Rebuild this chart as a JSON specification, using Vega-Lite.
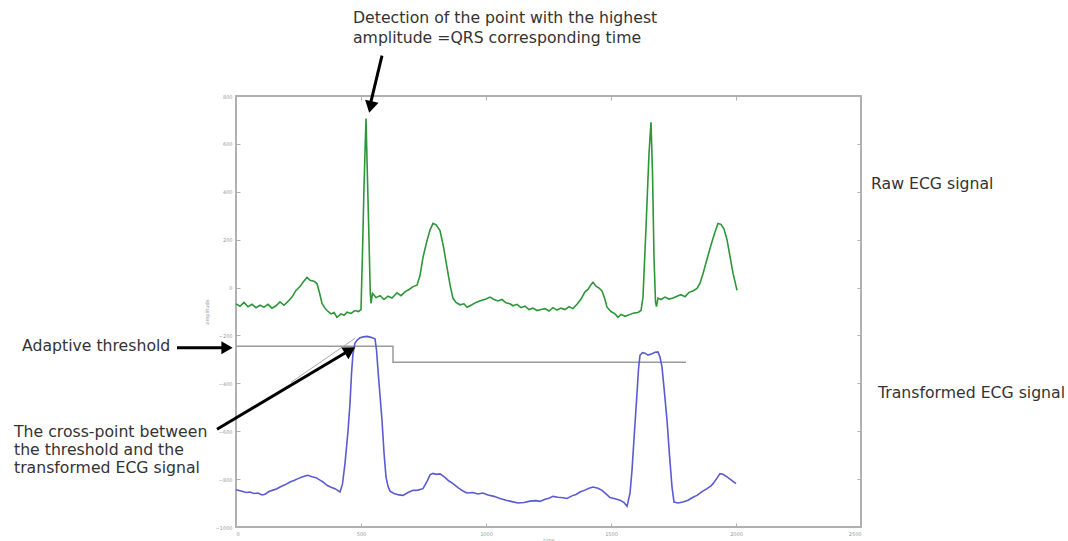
{
  "$schema": "https://vega.github.io/schema/vega-lite/v6.json",
  "width": 625,
  "height": 431,
  "autosize": {"type": "none"},
  "padding": {"left": 236, "top": 96, "right": 207, "bottom": 14},
  "background": "white",
  "config": {
    "view": {"stroke": "#b0b0b0", "strokeWidth": 2},
    "axis": {"grid": false, "format": "d", "labelFont": "DejaVu Sans", "labelFontSize": 5, "labelColor": "#999999", "tickColor": "#b0b0b0", "domainColor": "#b0b0b0", "tickSize": -4, "labelPadding": 8, "titleFont": "DejaVu Sans", "titleFontSize": 5, "titleColor": "#999999", "titleFontWeight": "normal"}
  },
  "datasets": {
    "green": [
      {"x":0,"y":-68},{"x":16,"y":-78},{"x":32,"y":-62},{"x":48,"y":-80},{"x":64,"y":-70},{"x":80,"y":-84},{"x":96,"y":-74},{"x":112,"y":-82},{"x":128,"y":-70},{"x":144,"y":-86},{"x":160,"y":-76},{"x":176,"y":-60},{"x":192,"y":-74},{"x":208,"y":-58},{"x":224,"y":-40},{"x":240,"y":-12},{"x":256,"y":4},{"x":268,"y":22},{"x":284,"y":42},{"x":296,"y":30},{"x":312,"y":26},{"x":324,"y":17},{"x":336,"y":-30},{"x":344,"y":-66},{"x":356,"y":-86},{"x":364,"y":-96},{"x":380,"y":-110},{"x":392,"y":-104},{"x":404,"y":-124},{"x":420,"y":-110},{"x":432,"y":-116},{"x":444,"y":-103},{"x":460,"y":-108},{"x":476,"y":-96},{"x":490,"y":-100},{"x":500,"y":-92},{"x":506,"y":150},{"x":512,"y":420},{"x":520,"y":706},{"x":526,"y":450},{"x":532,"y":200},{"x":537,"y":-20},{"x":540,"y":-66},{"x":546,"y":-24},{"x":560,"y":-42},{"x":576,"y":-34},{"x":592,"y":-50},{"x":608,"y":-36},{"x":624,"y":-44},{"x":644,"y":-22},{"x":660,"y":-34},{"x":676,"y":-18},{"x":692,"y":-8},{"x":708,"y":4},{"x":724,"y":10},{"x":736,"y":50},{"x":748,"y":126},{"x":764,"y":196},{"x":776,"y":240},{"x":788,"y":268},{"x":800,"y":262},{"x":816,"y":238},{"x":830,"y":170},{"x":844,"y":84},{"x":856,"y":12},{"x":868,"y":-45},{"x":880,"y":-62},{"x":896,"y":-72},{"x":912,"y":-68},{"x":924,"y":-82},{"x":944,"y":-72},{"x":960,"y":-62},{"x":980,"y":-54},{"x":1000,"y":-48},{"x":1016,"y":-40},{"x":1032,"y":-50},{"x":1048,"y":-56},{"x":1064,"y":-50},{"x":1080,"y":-64},{"x":1096,"y":-68},{"x":1108,"y":-76},{"x":1124,"y":-70},{"x":1140,"y":-84},{"x":1156,"y":-78},{"x":1172,"y":-92},{"x":1188,"y":-86},{"x":1204,"y":-96},{"x":1220,"y":-92},{"x":1236,"y":-88},{"x":1252,"y":-98},{"x":1268,"y":-84},{"x":1284,"y":-94},{"x":1300,"y":-86},{"x":1316,"y":-92},{"x":1332,"y":-80},{"x":1348,"y":-88},{"x":1364,"y":-70},{"x":1380,"y":-48},{"x":1396,"y":-18},{"x":1408,"y":-8},{"x":1420,"y":12},{"x":1428,"y":22},{"x":1440,"y":6},{"x":1452,"y":-2},{"x":1464,"y":-14},{"x":1476,"y":-50},{"x":1484,"y":-82},{"x":1500,"y":-100},{"x":1516,"y":-110},{"x":1528,"y":-124},{"x":1540,"y":-112},{"x":1556,"y":-120},{"x":1576,"y":-112},{"x":1592,"y":-106},{"x":1608,"y":-104},{"x":1620,"y":-96},{"x":1628,"y":-40},{"x":1640,"y":250},{"x":1652,"y":560},{"x":1660,"y":690},{"x":1666,"y":480},{"x":1672,"y":126},{"x":1678,"y":-60},{"x":1682,"y":-80},{"x":1688,"y":-44},{"x":1700,"y":-50},{"x":1716,"y":-40},{"x":1732,"y":-48},{"x":1748,"y":-44},{"x":1764,"y":-36},{"x":1780,"y":-30},{"x":1796,"y":-38},{"x":1812,"y":-20},{"x":1828,"y":-14},{"x":1844,"y":-4},{"x":1856,"y":18},{"x":1868,"y":58},{"x":1884,"y":118},{"x":1900,"y":178},{"x":1916,"y":232},{"x":1928,"y":268},{"x":1940,"y":264},{"x":1952,"y":244},{"x":1964,"y":200},{"x":1976,"y":130},{"x":1988,"y":60},{"x":2004,"y":-12}
    ],
    "blue": [
      {"x":0,"y":-844},{"x":20,"y":-850},{"x":40,"y":-856},{"x":56,"y":-854},{"x":72,"y":-860},{"x":88,"y":-858},{"x":104,"y":-866},{"x":116,"y":-863},{"x":132,"y":-852},{"x":148,"y":-846},{"x":164,"y":-840},{"x":176,"y":-833},{"x":196,"y":-824},{"x":216,"y":-812},{"x":232,"y":-806},{"x":248,"y":-798},{"x":264,"y":-791},{"x":280,"y":-786},{"x":288,"y":-784},{"x":304,"y":-790},{"x":320,"y":-794},{"x":336,"y":-804},{"x":348,"y":-812},{"x":364,"y":-826},{"x":380,"y":-834},{"x":396,"y":-840},{"x":408,"y":-848},{"x":416,"y":-854},{"x":426,"y":-820},{"x":436,"y":-734},{"x":448,"y":-600},{"x":456,"y":-484},{"x":462,"y":-360},{"x":468,"y":-275},{"x":476,"y":-232},{"x":484,"y":-220},{"x":496,"y":-210},{"x":510,"y":-206},{"x":524,"y":-204},{"x":540,"y":-208},{"x":556,"y":-214},{"x":562,"y":-260},{"x":568,"y":-346},{"x":576,"y":-450},{"x":584,"y":-554},{"x":592,"y":-690},{"x":600,"y":-791},{"x":608,"y":-830},{"x":616,"y":-850},{"x":632,"y":-860},{"x":652,"y":-866},{"x":668,"y":-868},{"x":688,"y":-856},{"x":708,"y":-847},{"x":728,"y":-846},{"x":748,"y":-840},{"x":764,"y":-810},{"x":776,"y":-782},{"x":788,"y":-776},{"x":800,"y":-780},{"x":816,"y":-778},{"x":832,"y":-790},{"x":852,"y":-808},{"x":868,"y":-819},{"x":888,"y":-836},{"x":908,"y":-850},{"x":924,"y":-858},{"x":948,"y":-856},{"x":968,"y":-862},{"x":988,"y":-858},{"x":1008,"y":-866},{"x":1032,"y":-872},{"x":1056,"y":-881},{"x":1080,"y":-888},{"x":1104,"y":-894},{"x":1128,"y":-900},{"x":1152,"y":-898},{"x":1176,"y":-892},{"x":1200,"y":-890},{"x":1216,"y":-893},{"x":1236,"y":-884},{"x":1252,"y":-880},{"x":1268,"y":-872},{"x":1288,"y":-876},{"x":1308,"y":-878},{"x":1324,"y":-881},{"x":1344,"y":-870},{"x":1360,"y":-864},{"x":1376,"y":-854},{"x":1396,"y":-846},{"x":1412,"y":-838},{"x":1428,"y":-833},{"x":1448,"y":-838},{"x":1464,"y":-847},{"x":1480,"y":-862},{"x":1496,"y":-877},{"x":1516,"y":-882},{"x":1536,"y":-888},{"x":1552,"y":-898},{"x":1564,"y":-913},{"x":1576,"y":-860},{"x":1584,"y":-763},{"x":1594,"y":-600},{"x":1604,"y":-442},{"x":1610,"y":-340},{"x":1616,"y":-283},{"x":1626,"y":-272},{"x":1636,"y":-274},{"x":1648,"y":-282},{"x":1664,"y":-276},{"x":1676,"y":-270},{"x":1688,"y":-269},{"x":1696,"y":-290},{"x":1704,"y":-332},{"x":1714,"y":-440},{"x":1724,"y":-554},{"x":1734,"y":-700},{"x":1744,"y":-833},{"x":1752,"y":-896},{"x":1768,"y":-900},{"x":1788,"y":-896},{"x":1808,"y":-888},{"x":1828,"y":-876},{"x":1844,"y":-868},{"x":1864,"y":-852},{"x":1884,"y":-840},{"x":1900,"y":-828},{"x":1908,"y":-819},{"x":1924,"y":-796},{"x":1936,"y":-777},{"x":1948,"y":-780},{"x":1964,"y":-791},{"x":1984,"y":-806},{"x":2000,"y":-819}
    ],
    "thresh": [
      {"i":0,"x":0,"y":-245},{"i":1,"x":628,"y":-245},{"i":2,"x":628,"y":-312},{"i":3,"x":1800,"y":-312}
    ],
    "arrows": [
      {"id":"qrs","x":584,"y":969,"x2":536,"y2":760},
      {"id":"thr","x":-236,"y":-251,"x2":-44,"y2":-251},
      {"id":"cross","x":-76,"y":-592,"x2":448,"y2":-266}
    ],
    "ghost": [
      {"x":220,"y":-396,"x2":476,"y2":-212}
    ],
    "heads": [
      {"id":"qrs","x":538,"y":754},
      {"id":"thr","x":-36,"y":-251},
      {"id":"cross","x":456,"y":-262}
    ],
    "texts": [
      {"x":468,"y":1103,"t":"Detection of the point with the highest"},
      {"x":468,"y":1023,"t":"amplitude =QRS corresponding time"},
      {"x":2540,"y":410,"t":"Raw ECG signal"},
      {"x":2568,"y":-463,"t":"Transformed ECG signal"},
      {"x":-856,"y":-267,"t":"Adaptive threshold"},
      {"x":-888,"y":-625,"t":"The cross-point between"},
      {"x":-888,"y":-700,"t":"the threshold and the"},
      {"x":-888,"y":-776,"t":"transformed ECG signal"}
    ]
  },
  "resolve": {"axis": {"x": "independent", "y": "independent"}},
  "layer": [
    {
      "data": {"name": "thresh"},
      "mark": {"type": "line", "color": "#9a9a9a", "strokeWidth": 1.5},
      "encoding": {
        "x": {"field": "x", "type": "quantitative", "scale": {"domain": [0, 2500], "nice": false, "zero": false}, "axis": null},
        "y": {"field": "y", "type": "quantitative", "scale": {"domain": [-1000, 800], "nice": false, "zero": false}, "axis": null},
        "order": {"field": "i"}
      }
    },
    {
      "data": {"name": "green"},
      "mark": {"type": "line", "color": "#2c9639", "strokeWidth": 1.6},
      "encoding": {
        "x": {"field": "x", "type": "quantitative", "scale": {"domain": [0, 2500], "nice": false, "zero": false}, "axis": {"orient": "bottom", "values": [0, 500, 1000, 1500, 2000, 2500], "title": "time", "titlePadding": 1}},
        "y": {"field": "y", "type": "quantitative", "scale": {"domain": [-1000, 800], "nice": false, "zero": false}, "axis": {"orient": "left", "values": [-1000, -800, -600, -400, -200, 0, 200, 400, 600, 800], "title": "amplitude", "titlePadding": 6}}
      }
    },
    {
      "data": {"name": "blue"},
      "mark": {"type": "line", "color": "#5a5ad2", "strokeWidth": 1.6},
      "encoding": {
        "x": {"field": "x", "type": "quantitative", "scale": {"domain": [0, 2500], "nice": false, "zero": false}, "axis": {"orient": "top", "values": [0, 500, 1000, 1500, 2000, 2500], "labels": false, "title": null}},
        "y": {"field": "y", "type": "quantitative", "scale": {"domain": [-1000, 800], "nice": false, "zero": false}, "axis": {"orient": "right", "values": [-1000, -800, -600, -400, -200, 0, 200, 400, 600, 800], "labels": false, "title": null}}
      }
    },
    {
      "data": {"name": "ghost"},
      "mark": {"type": "rule", "color": "#aaaaaa", "strokeWidth": 1},
      "encoding": {
        "x": {"field": "x", "type": "quantitative", "scale": {"domain": [0, 2500], "nice": false, "zero": false}, "axis": null},
        "y": {"field": "y", "type": "quantitative", "scale": {"domain": [-1000, 800], "nice": false, "zero": false}, "axis": null},
        "x2": {"field": "x2"},
        "y2": {"field": "y2"}
      }
    },
    {
      "data": {"name": "arrows"},
      "mark": {"type": "rule", "color": "black", "strokeWidth": 3},
      "encoding": {
        "x": {"field": "x", "type": "quantitative", "scale": {"domain": [0, 2500], "nice": false, "zero": false}, "axis": null},
        "y": {"field": "y", "type": "quantitative", "scale": {"domain": [-1000, 800], "nice": false, "zero": false}, "axis": null},
        "x2": {"field": "x2"},
        "y2": {"field": "y2"}
      }
    },
    {
      "data": {"name": "heads"},
      "transform": [{"filter": "datum.id === 'qrs'"}],
      "mark": {"type": "point", "shape": "triangle-up", "filled": true, "color": "black", "opacity": 1, "size": 190, "angle": 193},
      "encoding": {
        "x": {"field": "x", "type": "quantitative", "scale": {"domain": [0, 2500], "nice": false, "zero": false}, "axis": null},
        "y": {"field": "y", "type": "quantitative", "scale": {"domain": [-1000, 800], "nice": false, "zero": false}, "axis": null}
      }
    },
    {
      "data": {"name": "heads"},
      "transform": [{"filter": "datum.id === 'thr'"}],
      "mark": {"type": "point", "shape": "triangle-up", "filled": true, "color": "black", "opacity": 1, "size": 170, "angle": 90},
      "encoding": {
        "x": {"field": "x", "type": "quantitative", "scale": {"domain": [0, 2500], "nice": false, "zero": false}, "axis": null},
        "y": {"field": "y", "type": "quantitative", "scale": {"domain": [-1000, 800], "nice": false, "zero": false}, "axis": null}
      }
    },
    {
      "data": {"name": "heads"},
      "transform": [{"filter": "datum.id === 'cross'"}],
      "mark": {"type": "point", "shape": "triangle-up", "filled": true, "color": "black", "opacity": 1, "size": 190, "angle": 59},
      "encoding": {
        "x": {"field": "x", "type": "quantitative", "scale": {"domain": [0, 2500], "nice": false, "zero": false}, "axis": null},
        "y": {"field": "y", "type": "quantitative", "scale": {"domain": [-1000, 800], "nice": false, "zero": false}, "axis": null}
      }
    },
    {
      "data": {"name": "texts"},
      "mark": {"type": "text", "align": "left", "baseline": "alphabetic", "font": "DejaVu Sans", "fontSize": 15.7, "color": "#333333"},
      "encoding": {
        "x": {"field": "x", "type": "quantitative", "scale": {"domain": [0, 2500], "nice": false, "zero": false}, "axis": null},
        "y": {"field": "y", "type": "quantitative", "scale": {"domain": [-1000, 800], "nice": false, "zero": false}, "axis": null},
        "text": {"field": "t"}
      }
    }
  ]
}
